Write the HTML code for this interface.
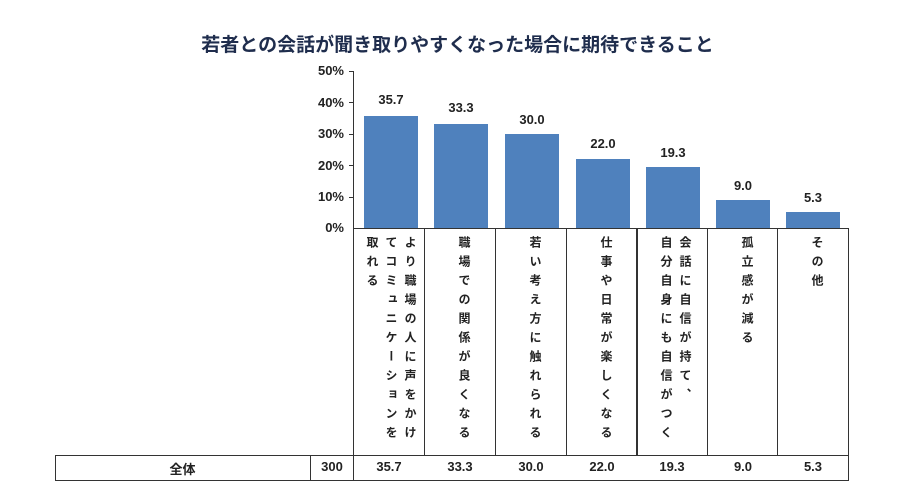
<!DOCTYPE html>
<html><head><meta charset="utf-8"><style>
body{margin:0;width:915px;height:489px;background:#fff;font-family:"Liberation Sans","Noto Sans CJK JP",sans-serif;position:relative;overflow:hidden;color:#222}
.a{position:absolute}
.t{left:0;width:915px;top:30px;text-align:center;font-size:19px;font-weight:bold;color:#1f2d4d}
.yl{font-size:13px;font-weight:bold;width:40px;text-align:right;left:304px}
.bar{background:#4f81bd}
.v{font-size:13px;font-weight:bold;text-align:center;width:70px}
.cell{border:1px solid #333;box-sizing:border-box}
.vt{writing-mode:vertical-rl;font-size:12px;font-weight:bold;letter-spacing:7px;line-height:19px;top:236px;height:222px;white-space:nowrap}
.d{font-size:13px;font-weight:bold;text-align:center;top:459px}
</style></head><body>
<div class="a t">若者との会話が聞き取りやすくなった場合に期待できること</div>
<div class="a yl" style="top:63px">50%</div>
<div class="a yl" style="top:95px">40%</div>
<div class="a yl" style="top:126px">30%</div>
<div class="a yl" style="top:158px">20%</div>
<div class="a yl" style="top:189px">10%</div>
<div class="a yl" style="top:220px">0%</div>
<div class="a" style="left:353px;top:71px;width:1px;height:158px;background:#333"></div>
<div class="a" style="left:353px;top:228px;width:495px;height:1px;background:#333"></div>
<div class="a" style="left:349px;top:71px;width:4px;height:1px;background:#333"></div>
<div class="a" style="left:349px;top:102px;width:4px;height:1px;background:#333"></div>
<div class="a" style="left:349px;top:134px;width:4px;height:1px;background:#333"></div>
<div class="a" style="left:349px;top:165px;width:4px;height:1px;background:#333"></div>
<div class="a" style="left:349px;top:197px;width:4px;height:1px;background:#333"></div>

<div class="a bar" style="left:364px;top:116px;width:54px;height:112px"></div>
<div class="a bar" style="left:434px;top:124px;width:54px;height:104px"></div>
<div class="a bar" style="left:505px;top:134px;width:54px;height:94px"></div>
<div class="a bar" style="left:576px;top:159px;width:54px;height:69px"></div>
<div class="a bar" style="left:646px;top:167px;width:54px;height:61px"></div>
<div class="a bar" style="left:716px;top:200px;width:54px;height:28px"></div>
<div class="a bar" style="left:786px;top:212px;width:54px;height:16px"></div>

<div class="a v" style="left:356px;top:92px">35.7</div>
<div class="a v" style="left:426px;top:100px">33.3</div>
<div class="a v" style="left:497px;top:112px">30.0</div>
<div class="a v" style="left:568px;top:136px">22.0</div>
<div class="a v" style="left:638px;top:145px">19.3</div>
<div class="a v" style="left:708px;top:178px">9.0</div>
<div class="a v" style="left:778px;top:190px">5.3</div>

<div class="a cell" style="left:353px;top:228px;width:72px;height:228px"></div>
<div class="a cell" style="left:424px;top:228px;width:72px;height:228px"></div>
<div class="a cell" style="left:495px;top:228px;width:72px;height:228px"></div>
<div class="a cell" style="left:566px;top:228px;width:72px;height:228px"></div>
<div class="a cell" style="left:636px;top:228px;width:72px;height:228px"></div>
<div class="a cell" style="left:707px;top:228px;width:71px;height:228px"></div>
<div class="a cell" style="left:777px;top:228px;width:72px;height:228px"></div>

<div class="a vt" style="left:362px">より職場の人に声をかけ<br>てコミュニケーションを<br>取れる</div>
<div class="a vt" style="left:454px">職場での関係が良くなる</div>
<div class="a vt" style="left:525px">若い考え方に触れられる</div>
<div class="a vt" style="left:596px">仕事や日常が楽しくなる</div>
<div class="a vt" style="left:656px">会話に自信が持て、<br>自分自身にも自信がつく</div>
<div class="a vt" style="left:737px">孤立感が減る</div>
<div class="a vt" style="left:807px">その他</div>

<div class="a cell" style="left:55px;top:455px;width:794px;height:26px"></div>
<div class="a" style="left:310px;top:455px;width:1px;height:26px;background:#333"></div>
<div class="a" style="left:353px;top:455px;width:1px;height:26px;background:#333"></div>
<div class="a d" style="left:55px;width:255px">全体</div>
<div class="a d" style="left:311px;width:42px">300</div>
<div class="a d" style="left:354px;width:70px">35.7</div>
<div class="a d" style="left:425px;width:70px">33.3</div>
<div class="a d" style="left:496px;width:70px">30.0</div>
<div class="a d" style="left:567px;width:70px">22.0</div>
<div class="a d" style="left:637px;width:70px">19.3</div>
<div class="a d" style="left:708px;width:70px">9.0</div>
<div class="a d" style="left:778px;width:70px">5.3</div>
</body></html>
